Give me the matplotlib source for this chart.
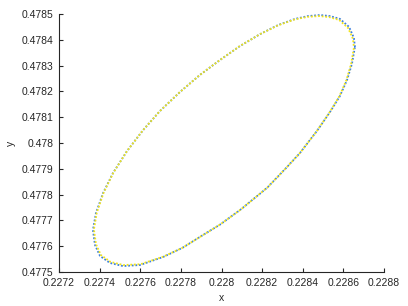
import matplotlib
matplotlib.use("Agg")
import matplotlib.pyplot as plt
from matplotlib.ticker import FuncFormatter

plt.rcParams['font.family'] = ['Liberation Sans', 'DejaVu Sans']

# Series 1 (blue) - traced orbit
x_blue = [0.228657, 0.228652, 0.228628, 0.228583, 0.228534, 0.228485, 0.228426, 0.228362,
          0.228278, 0.228190, 0.228091, 0.227993, 0.227894, 0.227796, 0.227697, 0.227614,
          0.227535, 0.227466, 0.227417, 0.227382, 0.227367, 0.227377, 0.227402, 0.227451,
          0.227515, 0.227599, 0.227712, 0.227806, 0.227894, 0.227993, 0.228091, 0.228224,
          0.228313, 0.228386, 0.228470, 0.228534, 0.228583, 0.228618, 0.228642, 0.228657]
y_blue = [0.478372, 0.478407, 0.478450, 0.478481, 0.478492, 0.478496, 0.478492, 0.478481,
          0.478457, 0.478422, 0.478376, 0.478322, 0.478264, 0.478198, 0.478124, 0.478050,
          0.477969, 0.477884, 0.477806, 0.477729, 0.477663, 0.477605, 0.477562, 0.477535,
          0.477523, 0.477527, 0.477558, 0.477593, 0.477636, 0.477684, 0.477740, 0.477826,
          0.477899, 0.477961, 0.478047, 0.478120, 0.478182, 0.478244, 0.478306, 0.478372]

# Series 2 (yellow) - nearly coincident orbit, slightly inside at the ends
x_yellow = [0.228652, 0.228647, 0.228623, 0.228579, 0.228530, 0.228482, 0.228424, 0.228361,
            0.228278, 0.228190, 0.228091, 0.227993, 0.227894, 0.227796, 0.227697, 0.227614,
            0.227535, 0.227467, 0.227419, 0.227386, 0.227372, 0.227382, 0.227406, 0.227454,
            0.227517, 0.227600, 0.227712, 0.227806, 0.227894, 0.227993, 0.228091, 0.228224,
            0.228313, 0.228386, 0.228470, 0.228533, 0.228581, 0.228615, 0.228638, 0.228652]
y_yellow = [0.478370, 0.478404, 0.478446, 0.478477, 0.478488, 0.478492, 0.478489, 0.478479,
            0.478456, 0.478422, 0.478376, 0.478322, 0.478264, 0.478198, 0.478124, 0.478050,
            0.477969, 0.477884, 0.477806, 0.477730, 0.477665, 0.477608, 0.477566, 0.477539,
            0.477527, 0.477530, 0.477559, 0.477593, 0.477636, 0.477684, 0.477740, 0.477826,
            0.477899, 0.477961, 0.478047, 0.478120, 0.478182, 0.478244, 0.478306, 0.478370]

x_ticks = [0.2272, 0.2274, 0.2276, 0.2278, 0.2280, 0.2282, 0.2284, 0.2286, 0.2288]
y_ticks = [0.4775, 0.4776, 0.4777, 0.4778, 0.4779, 0.4780, 0.4781, 0.4782, 0.4783, 0.4784, 0.4785]

fig = plt.figure(figsize=(4.08, 3.06), dpi=100)
ax = fig.add_axes([59/408, 34/306, 325/408, 258/306])

ax.plot(x_blue, y_blue, color='#3b7fe0', lw=1.3, linestyle=(0, (1, 1)))
ax.plot(x_yellow, y_yellow, color='#f2e41c', lw=1.3, linestyle=(1, (1, 1)))

ax.set_xlim(0.2272, 0.2288)
ax.set_ylim(0.4775, 0.4785)
ax.set_xticks(x_ticks)
ax.set_yticks(y_ticks)
fmt = FuncFormatter(lambda v, p: '%g' % round(v, 6))
ax.xaxis.set_major_formatter(fmt)
ax.yaxis.set_major_formatter(fmt)

for s in ['top', 'right']:
    ax.spines[s].set_visible(False)
for s in ['left', 'bottom']:
    ax.spines[s].set_color('#262626')
    ax.spines[s].set_linewidth(0.8)

ax.tick_params(direction='in', length=3, width=0.8, colors='#262626', labelsize=7.5, pad=4)
ax.set_xlabel('x', fontsize=7.5, color='#262626', labelpad=4)
ax.set_ylabel('y', fontsize=7.5, color='#262626', labelpad=4)

fig.savefig('out.png', dpi=100)
